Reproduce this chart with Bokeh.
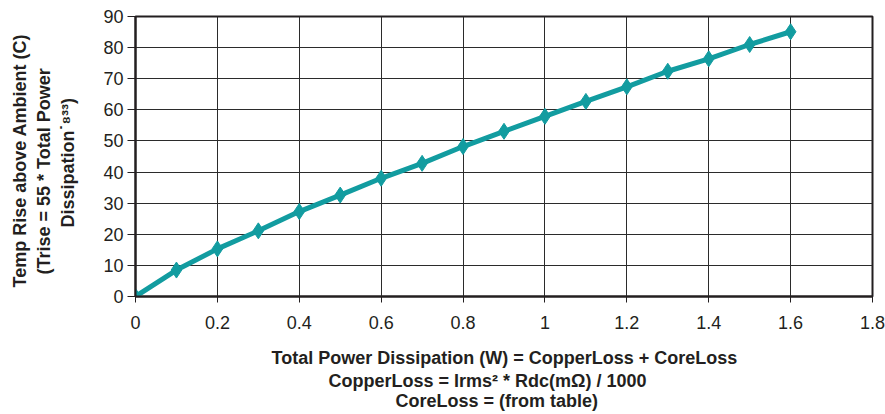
from bokeh.plotting import figure
from bokeh.models import Range1d, FixedTicker, Title
from bokeh.embed import file_html
from bokeh.resources import INLINE

# ---------------- data ----------------
power_w = [0.0, 0.1, 0.2, 0.3, 0.4, 0.5, 0.6, 0.7, 0.8, 0.9, 1.0, 1.1, 1.2, 1.3, 1.4, 1.5, 1.6]
temp_rise_c = [0.0, 8.5, 15.3, 21.1, 27.3, 32.6, 38.0, 42.8, 48.2, 53.1, 57.9, 62.7, 67.4, 72.4, 76.4, 81.0, 85.1]

x_ticks = [0, 0.2, 0.4, 0.6, 0.8, 1.0, 1.2, 1.4, 1.6, 1.8]
x_tick_labels = ["0", "0.2", "0.4", "0.6", "0.8", "1", "1.2", "1.4", "1.6", "1.8"]
y_ticks = [0, 10, 20, 30, 40, 50, 60, 70, 80, 90]
y_tick_labels = ["0", "10", "20", "30", "40", "50", "60", "70", "80", "90"]

y_title_1 = "Temp Rise above Ambient (C)"
y_title_2 = "(Trise = 55 * Total Power"
y_title_3 = "Dissipation\u02d9\u2078\u00b3\u00b3)"
x_title_1 = "Total Power Dissipation (W) = CopperLoss + CoreLoss"
x_title_2 = "CopperLoss = Irms\u00b2 * Rdc(m\u03a9) / 1000"
x_title_3 = "CoreLoss = (from table)"

# ---------------- layout ----------------
W, H = 885, 414
ML, MR, MT, MB = 135, 13, 16, 118

TEAL = "#129ca0"
DARK = "#231f20"
FONT = "Liberation Sans"

p = figure(width=W, height=H, output_backend="svg", toolbar_location=None,
           x_range=Range1d(0, 1.8), y_range=Range1d(0, 90),
           min_border_left=ML, min_border_right=MR,
           min_border_top=MT, min_border_bottom=MB)
p.background_fill_color = "white"
p.border_fill_color = "white"
p.outline_line_color = DARK
p.outline_line_width = 2
p.outline_line_alpha = 1

for ax, ticks, labels in ((p.xaxis, x_ticks, x_tick_labels), (p.yaxis, y_ticks, y_tick_labels)):
    ax.ticker = FixedTicker(ticks=ticks)
    ax.major_label_overrides = {t: l for t, l in zip(ticks, labels)}
    ax.minor_tick_line_color = None
    ax.major_tick_in = 0
    ax.major_tick_line_color = DARK
    ax.major_tick_line_width = 1
    ax.axis_line_color = DARK
    ax.axis_line_width = 2
    ax.major_label_text_font = FONT
    ax.major_label_text_font_size = "18px"
    ax.major_label_text_color = DARK

p.xaxis.major_tick_out = 6
p.xaxis.major_label_standoff = 13
p.yaxis.major_tick_out = 8
p.yaxis.major_label_standoff = 4

p.xgrid.ticker = FixedTicker(ticks=x_ticks)
p.ygrid.ticker = FixedTicker(ticks=y_ticks)
for g in (p.xgrid, p.ygrid):
    g.grid_line_color = "#2b2b2b"
    g.grid_line_width = 1
    g.grid_line_alpha = 1

p.line(power_w, temp_rise_c, line_width=5, line_color=TEAL)
p.scatter(power_w, temp_rise_c, marker="diamond", size=16, fill_color=TEAL, line_color=TEAL)


def title(text, side, offset, standoff, valign="top"):
    t = Title(text=text, align="left", offset=offset, standoff=standoff,
              vertical_align=valign, text_font=FONT, text_font_size="18px",
              text_font_style="bold", text_color=DARK)
    p.add_layout(t, side)

# x titles (stacked outward from the axis; first is an empty spacer)
title(" ", "below", 0, -7)
title(x_title_1, "below", 136, 2)
title(x_title_2, "below", 193, 0)
title(x_title_3, "below", 260, -4)

# y titles (stacked outward from the axis; first is an empty spacer)
title(" ", "left", 0, -2)
title(y_title_3, "left", 69, 2)
title(y_title_2, "left", 22, 2)
title(y_title_1, "left", 9, 2)

open("out.html", "w").write(file_html(p, INLINE))
